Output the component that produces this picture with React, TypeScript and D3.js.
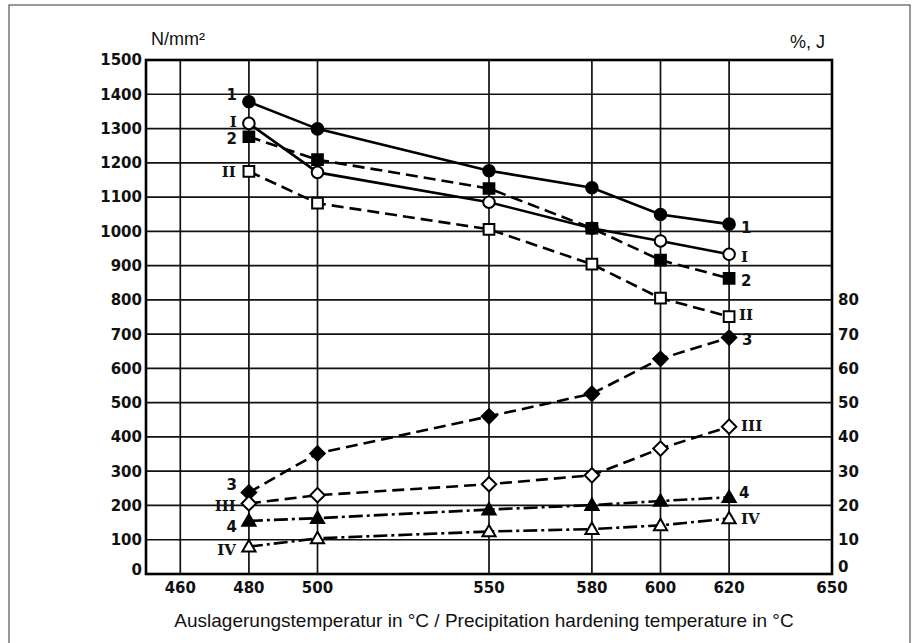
import React from "react";
import * as d3 from "d3";

// temperatures (°C)
const temps = [480, 500, 550, 580, 600, 620];

// strength values, N/mm² (left axis)
const s1 = [1378, 1299, 1177, 1127, 1049, 1021];
const sI = [1315, 1172, 1085, 1009, 972, 933];
const s2 = [1276, 1209, 1125, 1009, 916, 863];
const sII = [1175, 1082, 1006, 904, 805, 751];

// elongation / impact values, %, J (right axis)
const s3 = [23.8, 35.2, 46.0, 52.6, 62.8, 69.0];
const sIII = [20.6, 23.0, 26.2, 28.8, 36.6, 43.0];
const s4 = [15.5, 16.3, 18.8, 20.1, 21.3, 22.4];
const sIV = [8.0, 10.4, 12.4, 13.1, 14.2, 16.2];

const xGrid = [460, 480, 500, 550, 580, 600, 620];
const xLabels = [460, 480, 500, 550, 580, 600, 620, 650];
const leftTicks = d3.range(0, 1501, 100);
const rightTicks = [0, 10, 20, 30, 40, 50, 60, 70, 80];

const W = 914;
const H = 643;

const x = d3.scaleLinear().domain([450, 650]).range([146, 832]);
const yL = d3.scaleLinear().domain([0, 1500]).range([574, 60]);
const yR = d3.scaleLinear().domain([0, 150]).range([574, 60]);

type Series = {
  name: string;
  values: number[];
  axis: "L" | "R";
  marker: "circle" | "square" | "diamond" | "triangle";
  filled: boolean;
  dash: string;
  roman: boolean;
  left: [number, number];
  right: [number, number];
};

const series: Series[] = [
  { name: "1", values: s1, axis: "L", marker: "circle", filled: true, dash: "none", roman: false, left: [-12, -7], right: [12, 3] },
  { name: "I", values: sI, axis: "L", marker: "circle", filled: false, dash: "none", roman: true, left: [-12, -2], right: [12, 2] },
  { name: "2", values: s2, axis: "L", marker: "square", filled: true, dash: "12,6", roman: false, left: [-12, 2], right: [12, 2] },
  { name: "II", values: sII, axis: "L", marker: "square", filled: false, dash: "12,6", roman: true, left: [-13, 0], right: [10, -2] },
  { name: "3", values: s3, axis: "R", marker: "diamond", filled: true, dash: "12,6", roman: false, left: [-12, -8], right: [13, 2] },
  { name: "III", values: sIII, axis: "R", marker: "diamond", filled: false, dash: "12,6", roman: true, left: [-13, 2], right: [12, -1] },
  { name: "4", values: s4, axis: "R", marker: "triangle", filled: true, dash: "14,4,3,4", roman: false, left: [-12, 6], right: [10, -5] },
  { name: "IV", values: sIV, axis: "R", marker: "triangle", filled: false, dash: "14,4,3,4", roman: true, left: [-13, 3], right: [12, 0] },
];

const sym = {
  circle: d3.symbol(d3.symbolCircle, 105),
  square: d3.symbol(d3.symbolSquare, 115),
  diamond: d3.symbol(d3.symbolSquare, 105),
  triangle: d3.symbol(d3.symbolTriangle, 75),
};

const tickFont = "DejaVu Sans, sans-serif";
const textFont = "Liberation Sans, Arial, sans-serif";

export default function App() {
  const yOf = (s: Series) => (s.axis === "L" ? yL : yR);

  return (
    <svg width={W} height={H} style={{ position: "absolute", left: 0, top: 0, background: "white" }}>
      {/* outer frame */}
      <rect x={9} y={5} width={901} height={645} fill="none" stroke="#555" strokeWidth={1.2} />

      {/* grid */}
      {leftTicks.map(t => (
        <line key={"h" + t} x1={x(450)} x2={x(650)} y1={yL(t)} y2={yL(t)} stroke="#111" strokeWidth={1.7} />
      ))}
      {xGrid.map(t => (
        <line key={"v" + t} x1={x(t)} x2={x(t)} y1={yL(1500)} y2={yL(0)} stroke="#111" strokeWidth={1.7} />
      ))}
      <rect x={x(450)} y={yL(1500)} width={x(650) - x(450)} height={yL(0) - yL(1500)} fill="none" stroke="#000" strokeWidth={2.6} />

      {/* left axis labels */}
      {leftTicks.map(t => (
        <text key={"l" + t} x={142} y={yL(t) - (t === 0 ? 4 : 0)} dy="0.36em" textAnchor="end" fontFamily={tickFont} fontWeight="bold" fontSize={15} fill="#111">
          {t}
        </text>
      ))}
      {/* right axis labels */}
      {rightTicks.map(t => (
        <text key={"r" + t} x={838} y={yR(t) - (t === 0 ? 7 : 0)} dy="0.36em" textAnchor="start" fontFamily={tickFont} fontWeight="bold" fontSize={15} fill="#111">
          {t}
        </text>
      ))}
      {/* x labels */}
      {xLabels.map(t => (
        <text key={"x" + t} x={x(t)} y={yL(0) + 14} dy="0.36em" textAnchor="middle" fontFamily={tickFont} fontWeight="bold" fontSize={15} fill="#111">
          {t}
        </text>
      ))}

      <text x={151} y={45} fontFamily={textFont} fontSize={18} fill="#111">
        N/mm²
      </text>
      <text x={825} y={48} textAnchor="end" fontFamily={textFont} fontSize={18} fill="#111">
        %, J
      </text>
      <text x={(176 + 792) / 2} y={627} textAnchor="middle" fontFamily={textFont} fontSize={19} fill="#111">
        Auslagerungstemperatur in °C / Precipitation hardening temperature in °C
      </text>

      {/* series lines */}
      {series.map(s => {
        const ys = yOf(s);
        const line = d3
          .line<number>()
          .x((d, i) => x(temps[i]))
          .y(d => ys(d));
        return (
          <path key={"p" + s.name} d={line(s.values) || ""} fill="none" stroke="#000" strokeWidth={2.6} strokeDasharray={s.dash} />
        );
      })}

      {/* markers */}
      {series.map(s => {
        const ys = yOf(s);
        return s.values.map((v, i) => (
          <path
            key={"m" + s.name + i}
            transform={`translate(${x(temps[i])},${ys(v) + (s.marker === "triangle" ? 1 : 0)})${s.marker === "diamond" ? " rotate(45)" : ""}`}
            d={sym[s.marker]() || ""}
            fill={s.filled ? "#000" : "#fff"}
            stroke="#000"
            strokeWidth={2}
          />
        ));
      })}

      {/* series labels */}
      {series.map(s => {
        const ys = yOf(s);
        const n = s.values.length - 1;
        const font = s.roman ? "DejaVu Serif, serif" : tickFont;
        return (
          <g key={"t" + s.name}>
            <text
              x={x(temps[0]) + s.left[0]}
              y={ys(s.values[0]) + s.left[1]}
              dy="0.36em"
              textAnchor="end"
              fontFamily={font}
              fontWeight="bold"
              fontSize={15}
              fill="#111"
            >
              {s.name}
            </text>
            <text
              x={x(temps[n]) + s.right[0]}
              y={ys(s.values[n]) + s.right[1]}
              dy="0.36em"
              textAnchor="start"
              fontFamily={font}
              fontWeight="bold"
              fontSize={15}
              fill="#111"
            >
              {s.name}
            </text>
          </g>
        );
      })}
    </svg>
  );
}
